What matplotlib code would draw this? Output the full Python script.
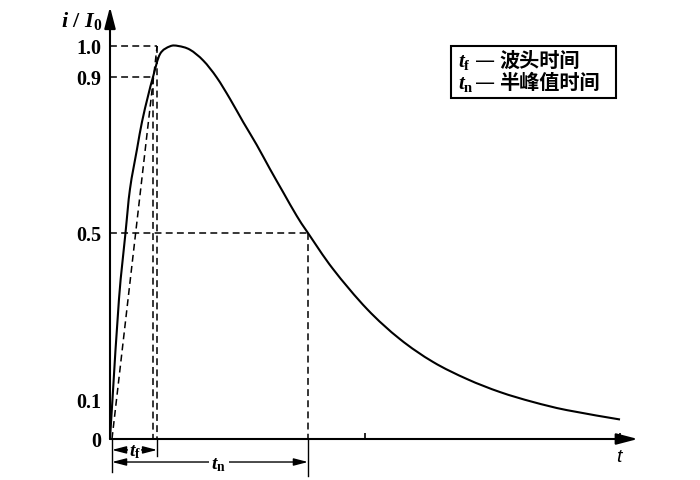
import numpy as np
import matplotlib
matplotlib.use('Agg')
import matplotlib.pyplot as plt
from matplotlib.patches import Rectangle, PathPatch
from matplotlib.path import Path
from matplotlib.ticker import NullLocator

plt.rcParams['mathtext.fontset'] = 'custom'
plt.rcParams['mathtext.it'] = 'Liberation Serif:italic:bold'
plt.rcParams['mathtext.rm'] = 'Liberation Serif:bold'

# waveform (time in arbitrary units, i/I0)
t_curve = [0, 0.63, 2.27, 3.91, 5.05, 6.82, 8.08, 9.6, 10.86, 12.63, 15.15,
           17.25, 20.2, 23.56, 26.94, 30.3, 33.66, 37.05, 40.4, 43.76, 47.15,
           50.0, 56.3, 64.9, 73.2, 81.6, 90.2, 98.5, 106.8, 115.4, 128.8]
i_curve = [0, 0.102, 0.342, 0.5, 0.613, 0.715, 0.785, 0.851, 0.9, 0.974, 0.999,
           1.0, 0.988, 0.953, 0.899, 0.844, 0.784, 0.726, 0.664, 0.604, 0.544,
           0.5, 0.414, 0.318, 0.246, 0.191, 0.150, 0.119, 0.095, 0.074, 0.050]

y_ticks = [0, 0.1, 0.5, 0.9, 1.0]
y_ticklabels = ['0', '0.1', '0.5', '0.9', '1.0']
x_ticks = [64.4, 128.8]

t_0 = 0.5       # virtual origin
t_09 = 10.9     # 0.9 crossing
t_f_end = 11.9  # front time end
t_n = 50.0      # half value time

# the original's y axis is a sketch, not quite linear
scale_vals = [-1, 0, 0.1, 0.5, 0.9, 1.0, 2.0]
scale_pos = [-390, 0, 39, 206, 362, 393, 703]


def fwd(v):
    return np.interp(v, scale_vals, scale_pos)


def inv(p):
    return np.interp(p, scale_pos, scale_vals)


def smooth_path(xs, ys):
    # catmull-rom through the points, as bezier segments (in scaled space)
    p = np.column_stack([xs, fwd(np.asarray(ys))])
    p = np.vstack([p[0], p, p[-1]])
    verts = [p[1]]
    codes = [Path.MOVETO]
    for k in range(1, len(p) - 2):
        c1 = p[k] + (p[k + 1] - p[k - 1]) / 6
        c2 = p[k + 1] - (p[k + 2] - p[k]) / 6
        verts += [c1, c2, p[k + 1]]
        codes += [Path.CURVE4] * 3
    verts = np.array(verts)
    verts[:, 1] = inv(verts[:, 1])
    return Path(verts, codes)


fig = plt.figure(figsize=(7, 4.81), dpi=100)
ax = fig.add_axes([110 / 700, 41 / 481, 590 / 700, 440 / 481])
ax.set_yscale('function', functions=(fwd, inv))
ax.set_xlim(0, 149)
ax.set_ylim(0, 1.1516)
for s in ax.spines.values():
    s.set_visible(False)

ax.set_xticks(x_ticks)
ax.set_xticklabels([])
ax.tick_params(axis='x', direction='in', length=4, width=1.2)
ax.set_yticks(y_ticks)
ax.set_yticklabels(y_ticklabels, fontfamily='Liberation Serif',
                   fontweight='bold', fontsize=14.5)
ax.tick_params(axis='y', length=0, pad=6)
ax.yaxis.set_minor_locator(NullLocator())
ax.xaxis.set_minor_locator(NullLocator())

# axes with arrowheads
arrow_axis = dict(arrowstyle='-|>,head_length=1.3,head_width=0.34',
                  color='black', lw=1.5, shrinkA=0, shrinkB=0)
ax.annotate('', xy=(133.3, 0), xytext=(0, 0), arrowprops=arrow_axis,
            annotation_clip=False)
ax.annotate('', xy=(0, 1.126), xytext=(0, 0), arrowprops=arrow_axis,
            annotation_clip=False)

# waveform
ax.add_patch(PathPatch(smooth_path(t_curve, i_curve), fill=False,
                       edgecolor='black', lw=1.5, clip_on=False))

# dashed helpers
dash = dict(color='black', lw=1.1, ls=(0, (4.5, 2.8)), clip_on=False)
ax.plot([0, t_f_end], [1.0, 1.0], **dash)
ax.plot([t_f_end, t_f_end], [1.0, 0], **dash)
ax.plot([0, t_09], [0.9, 0.9], **dash)
ax.plot([t_09, t_09], [0.9, 0], **dash)
ax.plot([0, t_n], [0.5, 0.5], **dash)
ax.plot([t_n, t_n], [0.5, 0], **dash)
ax.plot([t_0, t_f_end], [0, 1.0], **dash)

# dimension lines below the time axis
solid = dict(color='black', lw=1.0, clip_on=False)
ax.plot([t_0, t_0], [0, -0.085], **solid)
ax.plot([t_f_end, t_f_end], [0, -0.044], **solid)
ax.plot([t_n, t_n], [0, -0.095], **solid)

dim_arrow = dict(arrowstyle='<|-|>,head_length=0.85,head_width=0.22',
                 color='black', lw=1.0, shrinkA=0, shrinkB=0)
ax.annotate('', xy=(t_0, -0.028), xytext=(t_f_end, -0.028),
            arrowprops=dim_arrow, annotation_clip=False)
ax.annotate('', xy=(t_0, -0.059), xytext=(t_n, -0.059),
            arrowprops=dim_arrow, annotation_clip=False)
ax.text((t_0 + t_f_end) / 2, -0.03, r'$t_{\mathrm{f}}$', fontsize=14,
        ha='center', va='center', clip_on=False,
        bbox=dict(facecolor='white', edgecolor='none', pad=0.5))
ax.text(27.5, -0.062, r'$t_{\mathrm{n}}$', fontsize=14,
        ha='center', va='center', clip_on=False,
        bbox=dict(facecolor='white', edgecolor='none', pad=2))

# axis labels
fig.text(61 / 700, 1 - 27 / 481, r'$i\ /\ I_{0}$', fontsize=16,
         ha='left', va='baseline')
fig.text(619 / 700, 1 - 458 / 481, 't', fontsize=14, fontstyle='italic',
         family='Liberation Sans', ha='center', va='center')

# legend box
ax.add_patch(Rectangle((0.578, 0.775), 0.280, 0.118, transform=ax.transAxes,
                       fill=False, edgecolor='black', lw=1.5, clip_on=False))
cjk = ['Noto Sans CJK SC', 'DejaVu Sans']
for y_txt, sub, name in [(0.848, 'f', '波头时间'), (0.798, 'n', '半峰值时间')]:
    ax.text(0.590, y_txt, r'$t_{\mathrm{%s}}$' % sub, fontsize=15,
            transform=ax.transAxes, ha='left', va='baseline')
    ax.text(0.618, y_txt, '—', fontsize=14.5, family='DejaVu Sans',
            transform=ax.transAxes, ha='left', va='baseline')
    ax.text(0.660, y_txt, name, fontsize=14.5, family=cjk, fontweight='bold',
            transform=ax.transAxes, ha='left', va='baseline')

fig.savefig('out.png', dpi=100)
